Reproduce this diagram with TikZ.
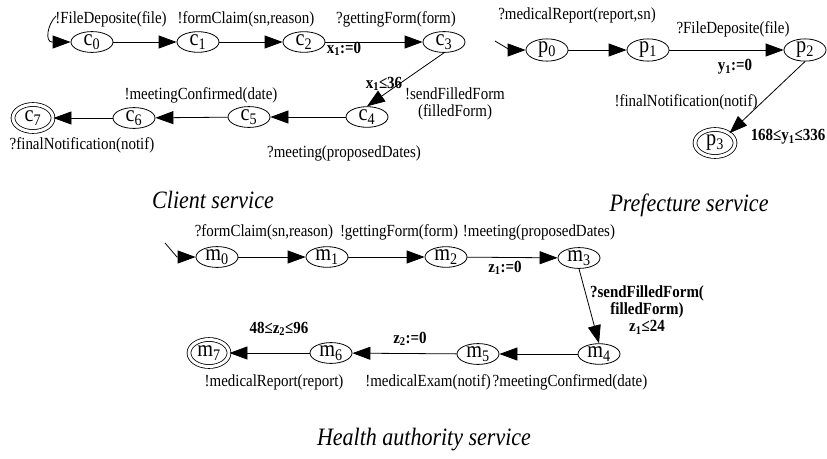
\documentclass[tikz,border=0pt]{standalone}
\usepackage{fontspec}
\setmainfont[FakeStretch=0.88]{Liberation Serif}
\usetikzlibrary{shapes.geometric,arrows.meta}

\begin{document}
\begin{tikzpicture}[x=1pt,y=-1pt,
    st/.style={ellipse,draw,line width=0.8pt,minimum width=42pt,minimum height=20pt,inner sep=0pt,font=\fontsize{23}{23}\selectfont},
    fin/.style={st,double,double distance=3pt,minimum width=40pt,minimum height=27pt},
    tr/.style={line width=0.8pt,-{Triangle[length=18pt,width=13pt]}},
    lbl/.style={font=\fontsize{17}{17}\selectfont},
    grd/.style={align=center,font=\bfseries\fontsize{17}{17}\selectfont},
    ttl/.style={font=\itshape\fontsize{25}{25}\selectfont}]
        \useasboundingbox (0,0) rectangle (827,458);

        % client service
        \node[st] (c0) at (92,42) {c\textsubscript{0}};
        \node[st] (c1) at (198,42) {c\textsubscript{1}};
        \node[st] (c2) at (304,42) {c\textsubscript{2}};
        \node[st] (c3) at (444,42) {c\textsubscript{3}};
        \node[st] (c4) at (367,117) {c\textsubscript{4}};
        \node[st] (c5) at (249,117) {c\textsubscript{5}};
        \node[st] (c6) at (134,118) {c\textsubscript{6}};
        \node[fin] (c7) at (33,118) {c\textsubscript{7}};
        \coordinate (c0i) at (56,16);

        \draw[tr] (c0i) .. controls (47,25) and (45,42) .. (52,42) -- (c0);
        \draw[tr] (c0) -- (c1);
        \draw[tr] (c1) -- (c2);
        \draw[tr] (c2) -- (c3);
        \draw[tr] (c3.south) -- (c4.north);
        \draw[tr] (c4) -- (c5);
        \draw[tr] (c5) -- (c6);
        \draw[tr] (c6) -- (c7);

        \node[lbl] (lc0) at (111,19) {!FileDeposite(file)};
        \node[lbl] (lc1) at (246,19) {!formClaim(sn,reason)};
        \node[lbl] (lc2) at (396,19) {?gettingForm(form)};
        \node[grd] (gc2) at (344,49) {x\textsubscript{1}:=0};
        \node[grd] (gc3) at (384,84) {x\textsubscript{1}≤36};
        \node[lbl,align=center] (lc3) at (455,104) {!sendFilledForm\\(filledForm)};
        \node[lbl] (lc5) at (201,95) {!meetingConfirmed(date)};
        \node[lbl] (lc6) at (82,145) {?finalNotification(notif)};
        \node[lbl] (lc4) at (344,153) {?meeting(proposedDates)};
        \node[ttl] (tc) at (213,200) {Client service};

        % prefecture service
        \node[st] (p0) at (547,50) {p\textsubscript{0}};
        \node[st] (p1) at (648,50) {p\textsubscript{1}};
        \node[st] (p2) at (805,50) {p\textsubscript{2}};
        \node[fin] (p3) at (715,143) {p\textsubscript{3}};
        \coordinate (p0i) at (495,41);

        \draw[tr] (p0i) -- (510,50) -- (p0);
        \draw[tr] (p0) -- (p1);
        \draw[tr] (p1) -- (p2);
        \draw[tr] (p2.south) -- (p3.north east);

        \node[lbl] (lp0) at (577,15) {?medicalReport(report,sn)};
        \node[lbl] (lp1) at (733,29) {?FileDeposite(file)};
        \node[grd] (gp1) at (735,67) {y\textsubscript{1}:=0};
        \node[lbl] (lp2) at (686,102) {!finalNotification(notif)};
        \node[grd] (gp2) at (788,137) {168≤y\textsubscript{1}≤336};
        \node[ttl] (tp) at (689,205) {Prefecture service};

        % health authority service
        \node[st] (m0) at (217,257) {m\textsubscript{0}};
        \node[st] (m1) at (327,257) {m\textsubscript{1}};
        \node[st] (m2) at (446,257) {m\textsubscript{2}};
        \node[st] (m3) at (579,258) {m\textsubscript{3}};
        \node[st] (m4) at (599,354) {m\textsubscript{4}};
        \node[st] (m5) at (478,354) {m\textsubscript{5}};
        \node[st] (m6) at (331,353) {m\textsubscript{6}};
        \node[fin] (m7) at (209,353) {m\textsubscript{7}};
        \coordinate (m0i) at (165,243);

        \draw[tr] (m0i) -- (177,257) -- (m0);
        \draw[tr] (m0) -- (m1);
        \draw[tr] (m1) -- (m2);
        \draw[tr] (m2) -- (m3);
        \draw[tr] (m3.south) -- (m4.north);
        \draw[tr] (m4) -- (m5);
        \draw[tr] (m5) -- (m6);
        \draw[tr] (m6) -- (m7);

        \node[lbl] (lm0) at (264,232) {?formClaim(sn,reason)};
        \node[lbl] (lm1) at (399,232) {!gettingForm(form)};
        \node[lbl] (lm2) at (539,232) {!meeting(proposedDates)};
        \node[grd] (gm2) at (505,268) {z\textsubscript{1}:=0};
        \node[grd] (gm3) at (647,310) {?sendFilledForm(\\filledForm)\\z\textsubscript{1}≤24};
        \node[lbl] (lm4) at (570,382) {?meetingConfirmed(date)};
        \node[grd] (gm5) at (410,339) {z\textsubscript{2}:=0};
        \node[lbl] (lm5) at (428,382) {!medicalExam(notif)};
        \node[grd] (gm6) at (279,329) {48≤z\textsubscript{2}≤96};
        \node[lbl] (lm6) at (274,382) {!medicalReport(report)};
        \node[ttl] (tm) at (424,440) {Health authority service};
\end{tikzpicture}
\end{document}
